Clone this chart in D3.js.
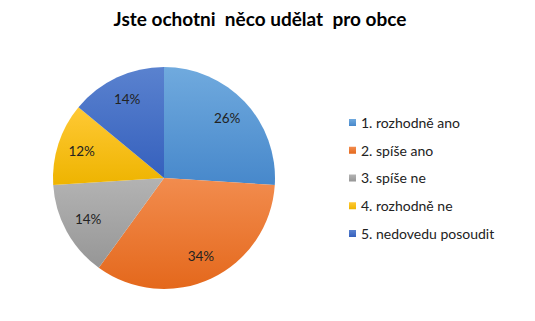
<!DOCTYPE html>
<html>
<head>
<meta charset="utf-8">
<script src="https://cdn.jsdelivr.net/npm/d3@7"></script>
<style>
body { margin: 0; background: #fff; }
svg { font-family: Lato, "Open Sans", sans-serif; }
</style>
</head>
<body>
<svg id="chart" width="535" height="321"></svg>
<script>
var labels = ["1. rozhodně ano", "2. spíše ano", "3. spíše ne", "4. rozhodně ne", "5. nedovedu posoudit"];
var values = [26, 34, 14, 12, 14];
var colorsTop = ["#70aade", "#f28c4e", "#b3b3b3", "#ffc935", "#5a82cf"];
var colorsBottom = ["#4788cb", "#e4681c", "#969696", "#eeb400", "#3560bd"];
var title = "Jste ochotni  něco udělat  pro obce";

var svg = d3.select("#chart");
var cx = 164, cy = 178, r = 111;

var defs = svg.append("defs");
values.forEach(function(v, i) {
  var g = defs.append("linearGradient").attr("id", "g" + i)
    .attr("x1", 0).attr("y1", 0).attr("x2", 0).attr("y2", 1);
  g.append("stop").attr("offset", "0%").attr("stop-color", colorsTop[i]);
  g.append("stop").attr("offset", "100%").attr("stop-color", colorsBottom[i]);
});

svg.append("text")
  .attr("x", 260).attr("y", 26)
  .attr("text-anchor", "middle")
  .style("white-space", "pre")
  .attr("font-size", 19).attr("font-weight", "bold").attr("fill", "#000")
  .text(title);

var pie = d3.pie().sort(null).value(function(d) { return d; });
var arc = d3.arc().innerRadius(0).outerRadius(r);
var labelArc = d3.arc().innerRadius(r * 0.78).outerRadius(r * 0.78);
var arcs = pie(values);

var g = svg.append("g").attr("transform", "translate(" + cx + "," + cy + ")");
g.selectAll("path").data(arcs).enter().append("path")
  .attr("d", arc)
  .attr("fill", function(d, i) { return "url(#g" + i + ")"; });

g.selectAll("text").data(arcs).enter().append("text")
  .attr("transform", function(d) { return "translate(" + labelArc.centroid(d) + ")"; })
  .attr("text-anchor", "middle").attr("dy", "0.35em")
  .attr("font-size", 13.5).attr("fill", "#222")
  .text(function(d) { return d.data + "%"; });

var y = d3.scalePoint().domain(labels).range([123, 234]);
var leg = svg.append("g").selectAll("g").data(labels).enter().append("g")
  .attr("transform", function(d) { return "translate(349," + y(d) + ")"; });
leg.append("rect").attr("x", 0).attr("y", -4).attr("width", 7).attr("height", 7)
  .attr("fill", function(d, i) { return "url(#g" + i + ")"; });
leg.append("text").attr("x", 12).attr("dy", "0.35em")
  .attr("font-size", 14).attr("fill", "#222")
  .text(function(d) { return d; });
</script>
</body>
</html>
